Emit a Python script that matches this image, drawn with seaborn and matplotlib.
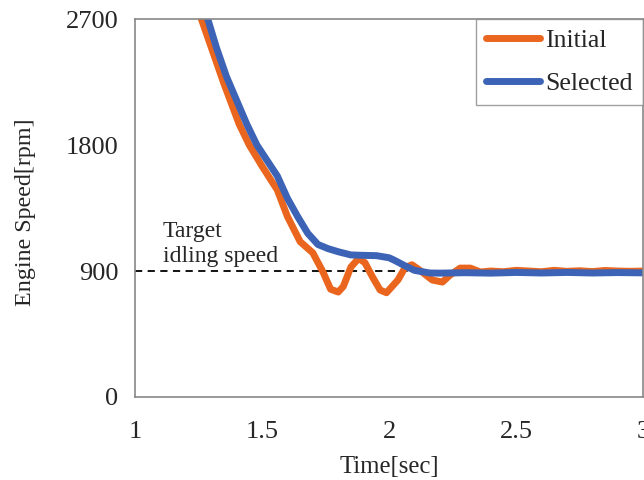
import matplotlib.pyplot as plt
import pandas as pd
import seaborn as sns

# Engine speed response
time_initial = [1.25, 1.30, 1.35, 1.41, 1.45, 1.50, 1.56, 1.60, 1.65, 1.70, 1.74, 1.77,
                1.80, 1.82, 1.85, 1.88, 1.905, 1.935, 1.965, 1.99, 2.035, 2.063, 2.09, 2.12,
                2.17, 2.21, 2.24, 2.28, 2.32, 2.36, 2.40, 2.45, 2.50, 2.55, 2.60,
                2.65, 2.70, 2.75, 2.80, 2.85, 2.90, 2.95, 3.00]
speed_initial = [2760, 2500, 2240, 1950, 1800, 1650, 1480, 1290, 1110, 1030, 893, 770,
                 750, 790, 929, 990, 960, 857, 764, 745, 836, 925, 945, 907,
                 836, 821, 871, 921, 921, 893, 900, 895, 905, 900, 895,
                 905, 898, 902, 896, 904, 900, 898, 900]

time_selected = [1.28, 1.32, 1.36, 1.40, 1.44, 1.48, 1.52, 1.56, 1.60, 1.64, 1.68, 1.72,
                 1.76, 1.80, 1.85, 1.90, 1.95, 2.00, 2.02, 2.06, 2.10, 2.16, 2.20, 2.30,
                 2.40, 2.50, 2.60, 2.70, 2.80, 2.90, 3.00]
speed_selected = [2740, 2500, 2290, 2120, 1950, 1800, 1690, 1580, 1420, 1290, 1170, 1090,
                  1060, 1038, 1015, 1012, 1010, 995, 978, 940, 905, 886, 885, 888,
                  885, 890, 886, 890, 886, 889, 887]

target_speed = 900

df = pd.concat([
    pd.DataFrame({"time": time_initial, "speed": speed_initial, "case": "Initial"}),
    pd.DataFrame({"time": time_selected, "speed": speed_selected, "case": "Selected"}),
])

sns.set_style("white")
plt.rcParams["font.family"] = ["Liberation Serif", "DejaVu Serif"]

fig = plt.figure(figsize=(6.44, 4.8), dpi=100)
ax = fig.add_axes([0.2096, 0.173, 0.789, 0.787])

ax.axhline(target_speed, color="black", linestyle=(0, (4, 3)), linewidth=1.3)
sns.lineplot(data=df, x="time", y="speed", hue="case", estimator=None,
             palette={"Initial": "#EA661E", "Selected": "#3C63B5"},
             linewidth=5, ax=ax)

ax.text(1.11, 962, "Target\nidling speed", fontsize=17, va="baseline", ha="left",
        linespacing=1.25)

ax.set_xlim(1, 3)
ax.set_ylim(0, 2700)
ax.set_xticks([1, 1.5, 2, 2.5, 3])
ax.set_xticklabels(["1", "1.5", "2", "2.5", "3"])
ax.set_yticks([0, 900, 1800, 2700])
ax.tick_params(axis="both", labelsize=19, direction="in", length=4,
               width=1, color="#888888")
ax.tick_params(axis="x", pad=17)
ax.tick_params(axis="y", pad=12)
ax.set_xlabel("Time[sec]", fontsize=17.8)
ax.xaxis.set_label_coords(0.5, -0.155)
ax.set_ylabel("Engine Speed[rpm]", fontsize=17.3)
ax.yaxis.set_label_coords(-0.195, 0.49)

for s in ax.spines.values():
    s.set_color("#888888")
    s.set_linewidth(1.2)

leg = ax.legend(loc="upper right", fontsize=18.5, frameon=True, fancybox=False,
                handlelength=2.1, handletextpad=0.2, borderaxespad=0.0,
                labelspacing=0.75, borderpad=0.4)
leg.get_frame().set_edgecolor("#888888")
leg.get_frame().set_linewidth(1.0)

fig.savefig("out.png", dpi=100)
